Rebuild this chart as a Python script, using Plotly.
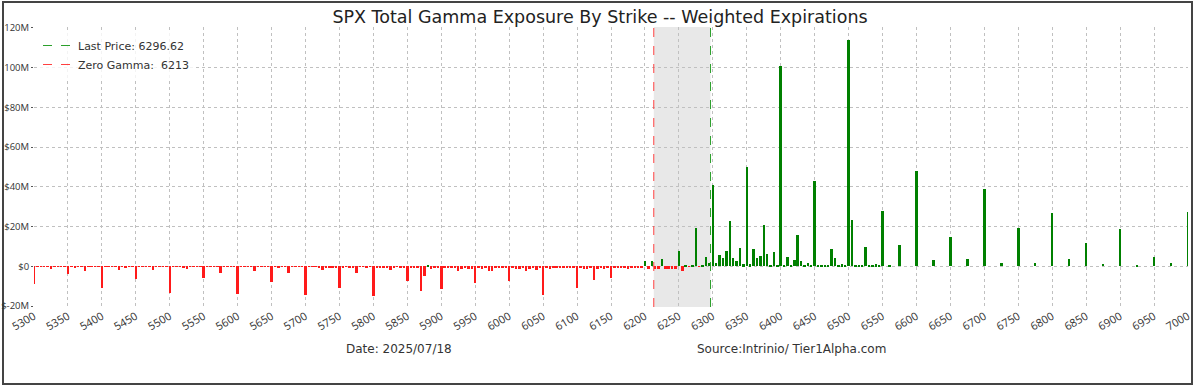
import plotly.graph_objects as go

# ---------------- data ----------------
strike_start = 5300
strike_step = 5
# gamma exposure in $M, one value per strike 5300..7000 step 5 (rows of 50 points)
gamma_m = [
    -8.7, -0.3, -0.3, -0.3, -0.3, -1.2, -0.3, -0.3, -0.3, -0.3,   # 5300
    -4.0, -0.3, -0.5, -0.3, -0.3, -2.3, -0.3, -0.3, -0.3, -0.3,   # 5350
    -11.0, -0.3, -0.3, -0.3, -0.3, -2.0, -0.3, -0.5, -0.3, -0.3,  # 5400
    -6.3, -0.3, -0.3, -0.3, -0.3, -1.7, -0.3, -0.3, -0.3, -0.3,   # 5450
    -13.3, -0.3, -0.3, -0.3, -0.5, -1.3, -0.3, -0.3, -0.3, -0.3,  # 5500
    -5.8, -0.3, -0.3, -0.3, -0.3, -3.2, -0.3, -0.3, -0.3, -0.3,   # 5550
    -13.7, -0.3, -0.3, -0.3, -0.3, -2.3, -0.3, -0.3, -0.3, -0.3,  # 5600
    -7.7, -0.3, -0.5, -0.3, -0.3, -3.2, -0.3, -0.3, -0.3, -0.3,   # 5650
    -14.3, -0.3, -0.3, -0.3, -0.8, -2.0, -0.8, -0.5, -0.5, -0.5,  # 5700
    -11.0, -0.5, -0.3, -0.5, -0.5, -3.2, -0.3, -0.3, -0.5, -0.3,  # 5750
    -15.0, -0.5, -0.5, -0.5, -0.5, -1.8, -0.5, -0.3, -0.5, -0.5,  # 5800
    -7.5, -0.5, -0.5, -0.5, -12.3, -5.0, 0.8, -1.5, -0.5, -0.5,   # 5850
    -11.2, -0.5, -0.5, -0.5, -0.8, -2.2, -1.2, -0.5, -1.2, -1.2,  # 5900
    -8.2, -0.5, -1.2, -0.5, -2.2, -2.5, -0.5, -0.5, -0.5, -0.5,   # 5950
    -7.5, -0.5, -1.2, -1.5, -0.8, -2.5, -1.5, -0.8, -1.8, -0.8,   # 6000
    -14.5, -0.8, -1.2, -1.0, -0.8, -1.0, -1.0, -1.0, -0.8, -0.8,  # 6050
    -10.7, -0.8, -1.2, -1.2, -0.8, -6.7, -1.2, -1.0, -1.2, -1.0,  # 6100
    -5.7, -1.0, -0.8, -1.0, -1.0, -1.2, -1.0, -0.8, -1.0, -0.8,   # 6150
    2.5, -1.2, 2.8, -1.5, -1.2, 3.5, -1.2, -1.5, -1.5, -1.2,      # 6200
    7.8, -2.5, 0.5, -0.2, 0.5, 19.5, -0.2, 0.8, 4.8, 1.5,         # 6250
    41.0, 1.5, 5.5, 4.3, 7.7, 23.0, 4.3, 2.7, 9.3, 1.0,           # 6300
    50.0, 1.0, 8.7, 4.2, 5.0, 21.0, 6.0, 0.5, 7.0, 0.8,           # 6350
    101.0, 0.3, 4.7, 0.5, 3.0, 15.8, 2.8, 0.3, 1.8, 0.3,          # 6400
    43.0, 0.3, 0.8, 0.3, 0.8, 8.8, 4.2, 0.3, 1.0, 0.3,            # 6450
    114.0, 23.5, 0.3, 0.3, 0.3, 9.7, 0.3, 0.3, 1.0, 0.3,          # 6500
    28.0, 0.0, 0.3, 0.0, 0.0, 10.5, 0.0, 0.0, 0.0, 0.0,           # 6550
    48.0, 0.0, 0.0, 0.0, 0.0, 3.3, 0.0, 0.0, 0.0, 0.0,            # 6600
    14.7, 0.0, 0.0, 0.0, 0.0, 3.7, 0.0, 0.0, 0.0, 0.0,            # 6650
    38.7, 0.0, 0.0, 0.0, 0.0, 1.5, 0.0, 0.0, 0.0, 0.0,            # 6700
    19.2, 0.0, 0.0, 0.0, 0.0, 1.8, 0.0, 0.0, 0.0, 0.0,            # 6750
    27.0, 0.0, 0.0, 0.0, 0.0, 3.8, 0.0, 0.0, 0.0, 0.0,            # 6800
    11.8, 0.0, 0.0, 0.0, 0.0, 1.3, 0.0, 0.0, 0.0, 0.0,            # 6850
    18.8, 0.0, 0.0, 0.0, 0.0, 0.7, 0.0, 0.0, 0.0, 0.0,            # 6900
    4.5, 0.0, 0.0, 0.0, 0.0, 1.5, 0.0, 0.0, 0.0, 0.0,             # 6950
    27.5,                                                          # 7000
]
strikes = [strike_start + i * strike_step for i in range(len(gamma_m))]

last_price = 6296.62
zero_gamma = 6213

x_ticks = list(range(5300, 7001, 50))
x_tick_labels = [str(v) for v in x_ticks]
y_ticks = [-20, 0, 20, 40, 60, 80, 100, 120]
y_tick_labels = ["$-20M", "$0", "$20M", "$40M", "$60M", "$80M", "100M", "120M"]

title_text = "SPX Total Gamma Exposure By Strike -- Weighted Expirations"
date_text = "Date: 2025/07/18"
source_text = "Source:Intrinio/ Tier1Alpha.com"

# ---------------- figure ----------------
bar_colors = ["green" if v >= 0 else "#ff1a1a" for v in gamma_m]

fig = go.Figure()
fig.add_trace(go.Bar(
    x=strikes, y=gamma_m, width=3.6,
    marker=dict(color=bar_colors, line=dict(width=0)),
    showlegend=False, hoverinfo="x+y",
))

y_lo, y_hi = -20.5, 120.5
fig.add_trace(go.Scatter(
    x=[last_price, last_price], y=[y_lo, y_hi], mode="lines",
    line=dict(color="#2ca02c", width=1, dash="dash"),
    name=f"Last Price: {last_price}",
))
fig.add_trace(go.Scatter(
    x=[zero_gamma, zero_gamma], y=[y_lo, y_hi], mode="lines",
    line=dict(color="#ff4040", width=1, dash="dash"),
    name=f"Zero Gamma:  {zero_gamma}",
))

fig.add_shape(type="rect", xref="x", yref="paper", x0=zero_gamma, x1=last_price,
              y0=0, y1=1, fillcolor="#e8e8e8", line=dict(width=0), layer="below")

# outer frame
ml, mr, mt, mb = 34, 12, 27, 84
pw, ph = 1200 - ml - mr, 391 - mt - mb
def px2paper_x(p):
    return (p - ml) / pw
def px2paper_y(p):
    return (391 - mb - p) / ph
fig.add_shape(type="rect", xref="paper", yref="paper",
              x0=px2paper_x(3), x1=px2paper_x(1192), y0=px2paper_y(384), y1=px2paper_y(2),
              line=dict(color="#444444", width=2), fillcolor="rgba(0,0,0,0)", layer="below")

fig.add_annotation(text=date_text, xref="paper", yref="paper",
                   x=px2paper_x(399), y=px2paper_y(349), showarrow=False,
                   font=dict(size=12, color="#333333"), xanchor="center", yanchor="middle")
fig.add_annotation(text=source_text, xref="paper", yref="paper",
                   x=px2paper_x(791), y=px2paper_y(349), showarrow=False,
                   font=dict(size=12, color="#333333"), xanchor="center", yanchor="middle")

fig.update_layout(
    width=1200, height=391,
    margin=dict(l=ml, r=mr, t=mt, b=mb, autoexpand=False),
    paper_bgcolor="white", plot_bgcolor="white",
    font=dict(family="DejaVu Sans", color="#333333"),
    title=dict(text=title_text, x=0.5, xref="container", xanchor="center",
               y=1 - 17 / 391, yanchor="middle", yref="container",
               font=dict(size=17.5, color="#222222")),
    bargap=0,
    showlegend=True,
    legend=dict(x=px2paper_x(38), y=px2paper_y(31), xanchor="left", yanchor="top",
                bgcolor="rgba(255,255,255,0.8)", borderwidth=0,
                font=dict(size=11, color="#333333"), tracegroupgap=0),
)
fig.update_xaxes(
    range=[5300, 7000], tickvals=x_ticks, ticktext=x_tick_labels, tickangle=-30,
    showgrid=True, gridcolor="#c0c0c0", griddash="dot", gridwidth=1,
    zeroline=False, showline=False, ticks="", tickfont=dict(family="Open Sans", size=11, color="#333333"),
    automargin=False,
)
fig.update_yaxes(
    range=[y_lo, y_hi], tickvals=y_ticks, ticktext=y_tick_labels,
    showgrid=True, gridcolor="#c0c0c0", griddash="dot", gridwidth=1,
    zeroline=False, showline=False, ticks="outside", ticklen=2, tickcolor="#555555",
    tickfont=dict(family="Open Sans", size=9.5, color="#333333"), automargin=False,
)

fig.write_html("out.html", config={"displayModeBar": False},
               post_script="document.body.style.margin='0';document.body.style.overflow='hidden';")
